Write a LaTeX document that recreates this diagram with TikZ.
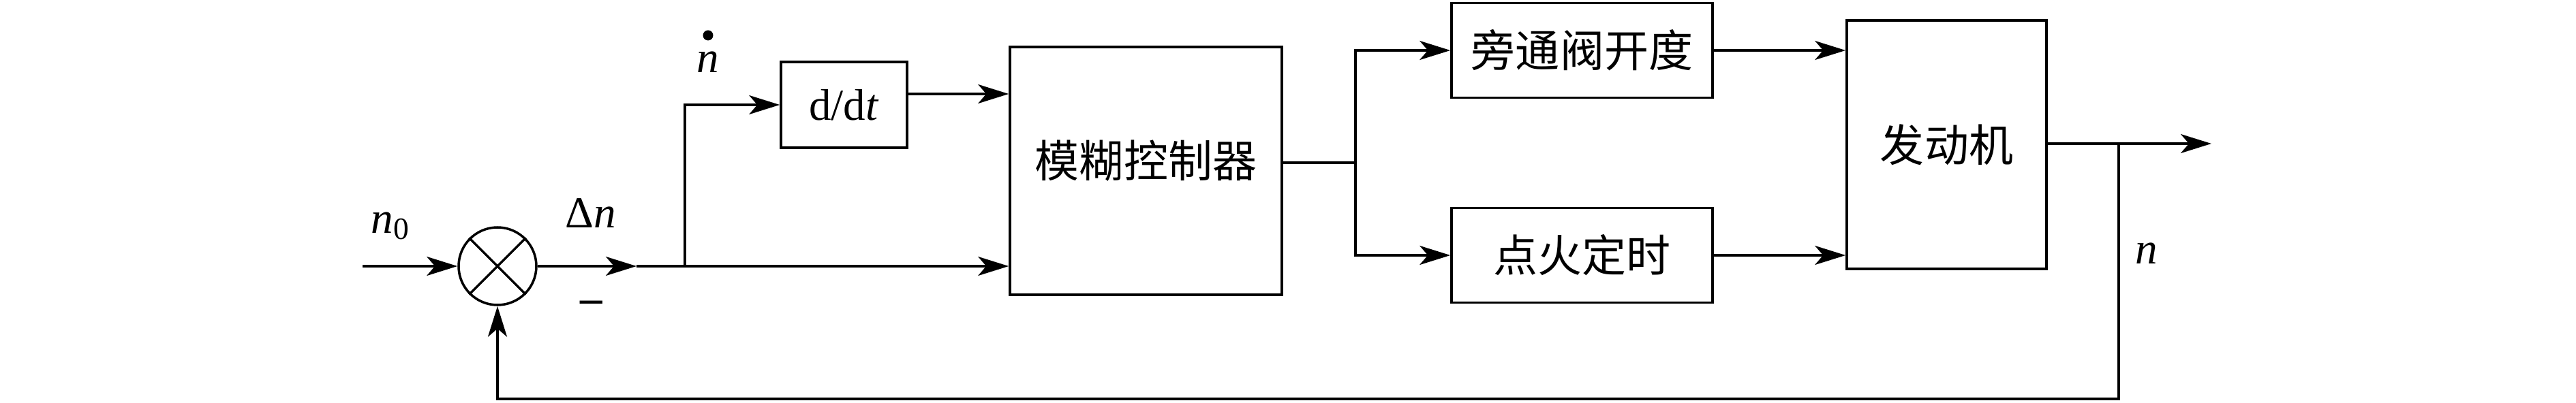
\documentclass[tikz,border=0pt]{standalone}
\usepackage{fontspec}
\setmainfont{Liberation Serif}
\newfontfamily\cjk{Noto Sans CJK SC}
\usetikzlibrary{arrows.meta,positioning,calc}

\begin{document}
\begin{tikzpicture}[line width=1pt,
  blk/.style={draw, inner sep=0pt},
  cn/.style={font=\cjk\fontsize{18.5}{22}\selectfont},
  lbl/.style={inner sep=0pt, font=\fontsize{18.5}{22}\selectfont},
  arr/.style={-{Stealth[length=4.5mm,width=2.8mm,inset=1.2mm]}}]%[scale=0.9]
  \useasboundingbox (0,0) rectangle (37.8,5.91);
  % blocks
  \node[blk, circle, minimum size=1.14cm] (sum) at (7.30,2.00) {};
  \draw (sum.north west) -- (sum.south east) (sum.north east) -- (sum.south west);
  \node[blk, lbl, minimum width=1.85cm, minimum height=1.26cm] (ddt) at (12.385,4.37) {d/d\textit{t}};
  \node[blk, minimum width=3.99cm, minimum height=3.64cm] (fc) at (16.815,3.40) {};
  \node[cn] (fct) at ($(fc)+(0,0.15)$) {模糊控制器};
  \node[blk, cn, minimum width=3.83cm, minimum height=1.39cm] (byp) at (23.215,5.17) {旁通阀开度};
  \node[blk, cn, minimum width=3.83cm, minimum height=1.39cm] (ign) at (23.215,2.16) {点火定时};
  \node[blk, cn, minimum width=2.93cm, minimum height=3.65cm] (eng) at (28.565,3.785) {发动机};
  % points
  \coordinate (in) at (5.32,2.00);
  \coordinate (dn) at (9.34,2.00);
  \coordinate (br) at (10.05,2.00);
  \coordinate (ddto) at ([yshift=1.6mm]ddt.east);
  \coordinate (fco) at ([yshift=1.2mm]fc.east);
  \coordinate (sp) at (19.89,3.52);
  \coordinate (tap) at (31.09,3.80);
  \coordinate (out) at (32.45,3.80);
  \coordinate (fb) at (31.09,0.05);
  % connectors
  \draw[arr] (in) -- (sum.west);
  \draw[arr] (sum.east) -- (dn);
  \draw[arr] (dn) -- (fc.west |- dn);
  \draw[arr] (br) |- (ddt.west);
  \draw[arr] (ddto) -- (fc.west |- ddto);
  \draw (fco) -- (sp);
  \draw[arr] (sp) |- (byp.west);
  \draw[arr] (sp) |- (ign.west);
  \draw[arr] (byp.east) -- (eng.west |- byp.east);
  \draw[arr] (ign.east) -- (eng.west |- ign.east);
  \draw[arr] (eng.east |- out) -- (out);
  \draw[arr] (tap) -- (fb) -| (sum.south);
  % labels
  \node[lbl] (n0) at (5.73,2.59) {\textit{n}\textsubscript{0}};
  \node[lbl] (dnl) at (8.67,2.78) {Δ\textit{n}};
  \node[lbl] (minus) at (8.68,1.40) {\textbf{–}};
  \node[lbl] (ndot) at (10.39,5.00) {\textit{n}};
  \fill (ndot.north) ++(0,0.22) circle (0.075);
  \node[lbl] (nout) at (31.50,2.19) {\textit{n}};
\end{tikzpicture}
\end{document}
